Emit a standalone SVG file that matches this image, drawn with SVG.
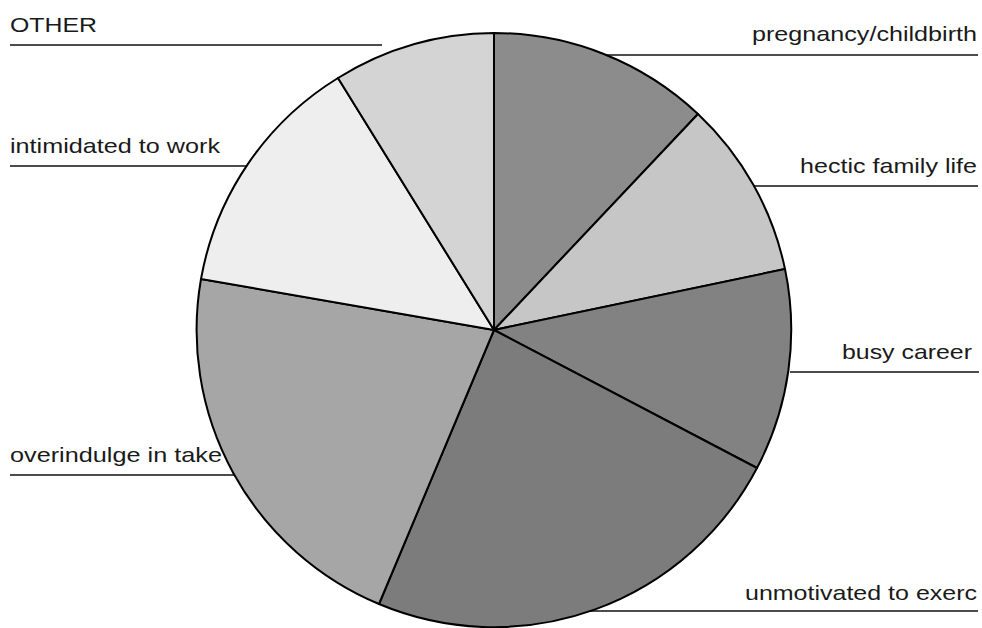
<svg xmlns="http://www.w3.org/2000/svg" width="982" height="628" viewBox="0 0 982 628">
  <style>
    .slice { stroke: #000; stroke-width: 2; stroke-linejoin: round; }
    .lbl { font-family: "Liberation Sans", Arial, sans-serif; font-size: 21px; fill: #1a1a1a; }
    .lead { stroke: #111; stroke-width: 1.6; fill: none; }
  </style>
  <rect width="982" height="628" fill="#ffffff"/>
  <g id="connectors">
    <line class="lead" x1="10" y1="45" x2="382" y2="45"/>
    <line class="lead" x1="10" y1="166" x2="246" y2="166"/>
    <line class="lead" x1="10" y1="475" x2="235" y2="475"/>
    <line class="lead" x1="606" y1="55" x2="978" y2="55"/>
    <line class="lead" x1="754" y1="186" x2="978" y2="186"/>
    <line class="lead" x1="790" y1="372" x2="979" y2="372"/>
    <line class="lead" x1="590" y1="611" x2="978" y2="611"/>
  </g>
  <g id="pregnancy">
    <path class="slice" fill="#8c8c8c" d="M494,330 L494,33 A297,297 0 0 1 698,114 Z"/>
    <text class="lbl" x="752" y="41" textLength="225" lengthAdjust="spacingAndGlyphs">pregnancy/childbirth</text>
  </g>
  <g id="hectic">
    <path class="slice" fill="#c6c6c6" d="M494,330 L698,114 A297,297 0 0 1 785,269 Z"/>
    <text class="lbl" x="800" y="173" textLength="177" lengthAdjust="spacingAndGlyphs">hectic family life</text>
  </g>
  <g id="busy">
    <path class="slice" fill="#828282" d="M494,330 L785,269 A297,297 0 0 1 757,468 Z"/>
    <text class="lbl" x="842" y="359" textLength="130" lengthAdjust="spacingAndGlyphs">busy career</text>
  </g>
  <g id="unmotivated">
    <path class="slice" fill="#7c7c7c" d="M494,330 L757,468 A297,297 0 0 1 379,604 Z"/>
    <text class="lbl" x="745" y="600" textLength="232" lengthAdjust="spacingAndGlyphs">unmotivated to exerc</text>
  </g>
  <g id="overindulge">
    <path class="slice" fill="#a6a6a6" d="M494,330 L379,604 A297,297 0 0 1 201,279 Z"/>
    <text class="lbl" x="10" y="462" textLength="212" lengthAdjust="spacingAndGlyphs">overindulge in take</text>
  </g>
  <g id="intimidated">
    <path class="slice" fill="#eeeeee" d="M494,330 L201,279 A297,297 0 0 1 338,78 Z"/>
    <text class="lbl" x="10" y="153" textLength="210" lengthAdjust="spacingAndGlyphs">intimidated to work</text>
  </g>
  <g id="other">
    <path class="slice" fill="#d4d4d4" d="M494,330 L338,78 A297,297 0 0 1 494,33 Z"/>
    <text class="lbl" x="10" y="32" textLength="87" lengthAdjust="spacingAndGlyphs">OTHER</text>
  </g>
</svg>
